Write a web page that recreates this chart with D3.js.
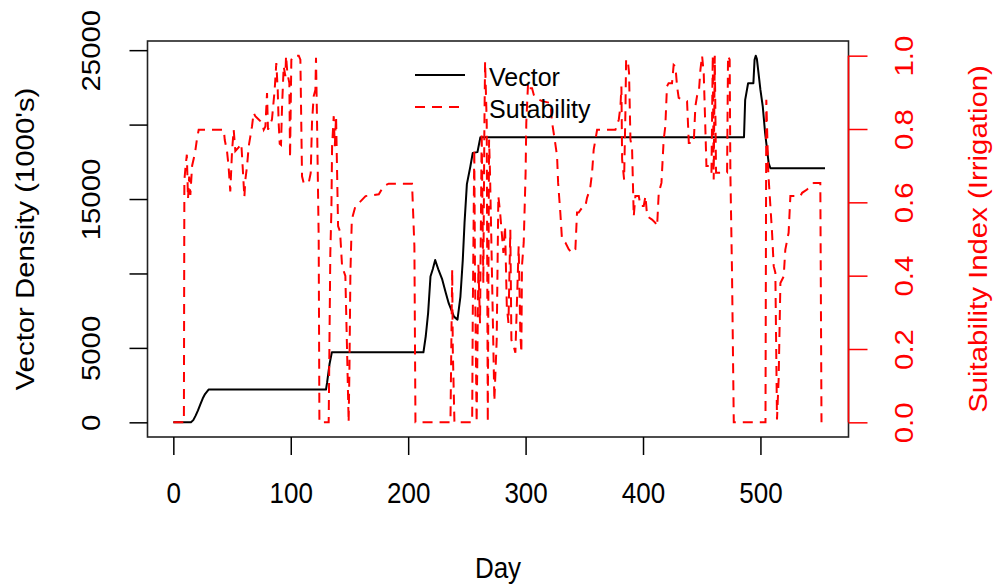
<!DOCTYPE html>
<html>
<head>
<meta charset="utf-8">
<script src="https://cdn.jsdelivr.net/npm/d3@7"></script>
<style>
body { margin: 0; background: #fff; }
text { font-family: "Liberation Sans", Arial, sans-serif; }
</style>
</head>
<body>
<div id="chart"></div>
<script>

// Vector density (black line)
var vecDays = [0, 15, 17, 19, 21, 23, 25, 27, 30, 130, 131, 133, 135, 213, 215, 217, 219, 221, 223, 226, 229, 232, 234.5, 237, 239, 242, 244.5, 246.5, 248, 250, 253, 255, 259, 261.5, 486, 487, 489.5, 494, 495, 496, 497, 500, 502, 504, 507, 508.5, 555];
var vecValues = [0, 0, 150, 450, 800, 1200, 1600, 1900, 2200, 2200, 2700, 3900, 4700, 4700, 5800, 7350, 9800, 10300, 10900, 10200, 9600, 8700, 8000, 7500, 7100, 6900, 8450, 10900, 13400, 16000, 17200, 18100, 18150, 19150, 19150, 21660, 22780, 22780, 24350, 24630, 24400, 22330, 21210, 19420, 17410, 17070, 17070];

// Suitability index (red dashed line)
var suitDays = [0, 9, 9.4, 10.5, 11.5, 12.5, 13.5, 14.5, 16, 18.5, 20, 21.6, 43, 43.8, 45.7, 47, 48.5, 50, 51.4, 52.8, 55.6, 57.9, 59, 60.5, 61.3, 62.8, 64.2, 65.6, 67, 68.4, 69.8, 72.7, 75.5, 77, 78.4, 79.8, 80.6, 84, 86.3, 87.7, 88.9, 89.7, 90.6, 91.7, 92.6, 94, 95.4, 96, 97.1, 98.8, 99.4, 100.5, 102.5, 106.8, 108.2, 109.6, 111, 115.3, 117, 118.1, 119.5, 121, 121.5, 122.4, 123.8, 124.4, 132.3, 132.9, 133.7, 134.6, 135.2, 136.6, 137.5, 138.6, 140.3, 142, 143.7, 146.5, 148, 149.3, 150, 150.8, 152, 155, 158, 163.7, 175, 179, 183.4, 203.3, 205.3, 206.2, 236, 237.5, 238, 239.4, 254.5, 255, 256.3, 256.9, 258.3, 259.8, 261.2, 262.6, 264, 264.9, 265.5, 266.9, 267.8, 268.9, 269.7, 271.1, 273.4, 275.4, 276.8, 278.3, 281.1, 282.5, 284, 285.4, 287, 287.9, 289.9, 291.3, 294.1, 295.5, 296.4, 296.9, 298.4, 300, 300.6, 302.1, 303.3, 305.5, 307, 308.4, 314.1, 321.1, 322.6, 324.8, 326.8, 327.7, 329.6, 331, 333.9, 336.7, 339.5, 342.4, 343.8, 345.2, 348, 350.9, 352.3, 353.7, 355.2, 356.6, 358, 359.5, 360.9, 376.5, 379.4, 380.8, 381.6, 382.2, 383.9, 385, 385.6, 387, 388.1, 389.3, 390.7, 392.1, 393.5, 396.4, 397.8, 400.6, 402.1, 403.5, 407.7, 410.5, 412, 413.4, 415.7, 417.6, 419, 420.4, 421.8, 424.7, 426.1, 427.6, 429, 430.4, 433.3, 437.5, 439, 443.2, 444.6, 446, 447.5, 448.9, 450.3, 451.7, 453.2, 454, 456, 458.3, 459.4, 460.2, 461.1, 462.2, 464.5, 467.3, 471.6, 472.4, 473.8, 474.4, 475.8, 477.3, 504.3, 505, 506.7, 508.5, 509.9, 511.3, 512.7, 514.1, 515.5, 517, 519.8, 521.2, 524, 525.5, 529.7, 534, 535.5, 539.7, 542.6, 545.4, 551, 552];
var suitValues = [0, 0, 0.66, 0.70, 0.73, 0.61, 0.67, 0.62, 0.70, 0.735, 0.77, 0.798, 0.798, 0.77, 0.74, 0.70, 0.63, 0.74, 0.798, 0.74, 0.75, 0.76, 0.70, 0.614, 0.66, 0.70, 0.753, 0.78, 0.807, 0.844, 0.835, 0.826, 0.817, 0.798, 0.807, 0.898, 0.798, 0.826, 0.907, 0.98, 0.907, 0.817, 0.76, 0.757, 0.862, 0.971, 0.944, 1.0, 0.953, 0.925, 0.721, 0.989, 1.0, 1.0, 0.989, 0.671, 0.653, 0.653, 0.68, 0.817, 0.889, 0.907, 0.994, 0.817, 0.499, 0, 0, 0.199, 0.462, 0.576, 0.753, 0.835, 0.753, 0.835, 0.535, 0.52, 0.426, 0.399, 0.19, 0, 0.15, 0.407, 0.553, 0.589, 0.598, 0.617, 0.622, 0.644, 0.651, 0.651, 0.48, 0, 0, 0.417, 0.2, 0, 0, 0.29, 0.745, 0.41, 0, 0.43, 0.27, 0.79, 0.38, 0.807, 0.984, 0.817, 0, 0.771, 0.68, 0.453, 0.058, 0.225, 0.617, 0.572, 0.462, 0.535, 0.317, 0.271, 0.525, 0.225, 0.207, 0.19, 0.48, 0.244, 0.19, 0.426, 0.49, 0.68, 0.817, 0.925, 0.911, 0.911, 0.893, 0.885, 0.876, 0.871, 0.817, 0.771, 0.726, 0.653, 0.571, 0.499, 0.49, 0.472, 0.462, 0.472, 0.572, 0.572, 0.585, 0.589, 0.612, 0.626, 0.644, 0.68, 0.744, 0.771, 0.798, 0.798, 0.826, 0.862, 0.916, 0.717, 0.662, 0.844, 0.989, 0.989, 0.953, 0.771, 0.744, 0.562, 0.617, 0.617, 0.59, 0.59, 0.617, 0.562, 0.553, 0.544, 0.535, 0.626, 0.653, 0.771, 0.807, 0.916, 0.925, 0.925, 0.975, 0.971, 0.916, 0.885, 0.88, 0.876, 0.762, 0.762, 0.862, 0.89, 0.898, 0.962, 1.0, 0.953, 0.79, 0.699, 0.699, 0.681, 1.0, 0.662, 1.0, 0.681, 0.681, 0.681, 0.681, 1.0, 0.989, 0.681, 0.408, 0, 0, 0.88, 0.68, 0.589, 0.517, 0.426, 0.408, 0.008, 0.117, 0.38, 0.398, 0.471, 0.517, 0.617, 0.617, 0.617, 0.626, 0.635, 0.644, 0.653, 0.653, 0];

// axis ticks
var xTicks = [0, 100, 200, 300, 400, 500];
var leftTicks = [0, 5000, 10000, 15000, 20000, 25000];
var leftTickLabels = ["0", "5000", "", "15000", "", "25000"];
var rightTicks = [0, 0.2, 0.4, 0.6, 0.8, 1.0];
var legendLabels = ["Vector", "Sutability"];

var W = 998, H = 586;
var margin = { top: 41, left: 147.5 },
    width = 701,
    height = 396;

var fs = 26, sy = 1.13; // text is a bit taller than wide in the picture

var svg0 = d3.select("#chart")
    .append("svg")
    .attr("width", W)
    .attr("height", H);
svg0.append("rect").attr("width", W).attr("height", H).attr("fill", "#fff");

var svg = svg0.append("g")
    .attr("transform", "translate(" + margin.left + "," + margin.top + ")");

// R style 4% padding around the data range
function pad(ext) {
    var d = (ext[1] - ext[0]) * 0.04;
    return [ext[0] - d, ext[1] + d];
}

var x = d3.scaleLinear().domain([-22, 575]).range([0, width]);
var yL = d3.scaleLinear().domain(pad(d3.extent(vecValues))).range([height, 0]);
var yR = d3.scaleLinear().domain(pad([0, 1])).range([height, 0]);

var vecData = vecDays.map(function (d, i) { return { day: d, v: vecValues[i] }; });
var suitData = suitDays.map(function (d, i) { return { day: d, v: suitValues[i] }; });

//////////
// LINES //
//////////
svg.append("path")
    .datum(vecData)
    .attr("fill", "none")
    .attr("stroke", "#000")
    .attr("stroke-width", 2)
    .attr("stroke-linejoin", "round")
    .attr("d", d3.line()
        .x(function (d) { return x(d.day); })
        .y(function (d) { return yL(d.v); }));

svg.append("path")
    .datum(suitData)
    .attr("fill", "none")
    .attr("stroke", "#ff0000")
    .attr("stroke-width", 2)
    .attr("stroke-dasharray", "10,7")
    .attr("d", d3.line()
        .x(function (d) { return x(d.day); })
        .y(function (d) { return yR(d.v); }));

// box
svg.append("rect")
    .attr("width", width)
    .attr("height", height)
    .attr("fill", "none")
    .attr("stroke", "#222")
    .attr("stroke-width", 1.6);

//////////
// AXES //
//////////
var xAxis = svg.append("g")
    .attr("transform", "translate(0," + height + ")")
    .call(d3.axisBottom(x).tickValues(xTicks).tickSize(18).tickFormat(d3.format("d")));
xAxis.select(".domain").remove();
xAxis.selectAll("line").attr("stroke", "#000").attr("stroke-width", 1.5);
xAxis.selectAll("text")
    .attr("y", 0).attr("dy", 0)
    .attr("transform", "translate(0,66) scale(1," + sy + ")")
    .style("font-size", fs + "px").attr("fill", "#000");

var lAxis = svg.append("g")
    .call(d3.axisLeft(yL).tickValues(leftTicks).tickSize(18)
        .tickFormat(function (d, i) { return leftTickLabels[i]; }));
lAxis.select(".domain").remove();
lAxis.selectAll("line").attr("stroke", "#000").attr("stroke-width", 1.5);
lAxis.selectAll("text")
    .attr("x", 0).attr("dy", 0).attr("text-anchor", "middle")
    .attr("transform", "translate(-47.5,0) scale(1," + sy + ") rotate(-90)")
    .style("font-size", fs + "px").attr("fill", "#000");

var rAxis = svg.append("g")
    .attr("transform", "translate(" + width + ",0)")
    .call(d3.axisRight(yR).tickValues(rightTicks).tickSize(19).tickFormat(d3.format(".1f")));
rAxis.select(".domain")
    .attr("d", "M0," + yR(0) + "V" + yR(1))
    .attr("stroke", "#ff0000").attr("stroke-width", 1.6);
rAxis.selectAll("line").attr("stroke", "#ff0000").attr("stroke-width", 1.5);
rAxis.selectAll("text")
    .attr("x", 0).attr("dy", 0).attr("text-anchor", "middle")
    .attr("transform", "translate(64.5,0) scale(1," + sy + ") rotate(-90)")
    .style("font-size", fs + "px").attr("fill", "#ff0000");

// axis titles
svg0.append("text")
    .attr("text-anchor", "middle")
    .attr("transform", "translate(498,578) scale(1," + sy + ")")
    .style("font-size", fs + "px").attr("fill", "#000")
    .text("Day");
svg0.append("text")
    .attr("text-anchor", "middle")
    .attr("transform", "translate(33.5,239) scale(1," + sy + ") rotate(-90)")
    .style("font-size", fs + "px").attr("fill", "#000")
    .text("Vector Density (1000's)");
svg0.append("text")
    .attr("text-anchor", "middle")
    .attr("transform", "translate(987,239) scale(1," + sy + ") rotate(-90)")
    .style("font-size", fs + "px").attr("fill", "#ff0000")
    .text("Suitability Index (Irrigation)");

//////////
// LEGEND //
//////////
var legend = svg0.append("g");
var legY = [75, 107];
legend.append("line").attr("x1", 415).attr("x2", 465).attr("y1", legY[0]).attr("y2", legY[0])
    .attr("stroke", "#000").attr("stroke-width", 2);
legend.append("line").attr("x1", 415).attr("x2", 465).attr("y1", legY[1]).attr("y2", legY[1])
    .attr("stroke", "#ff0000").attr("stroke-width", 2).attr("stroke-dasharray", "10,7");
legend.selectAll("text.lab")
    .data(legendLabels)
    .enter()
    .append("text")
    .attr("class", "lab")
    .attr("x", 489)
    .attr("y", function (d, i) { return legY[i] + 10.5; })
    .style("font-size", "25px").attr("fill", "#000")
    .text(function (d) { return d; });

</script>
</body>
</html>
